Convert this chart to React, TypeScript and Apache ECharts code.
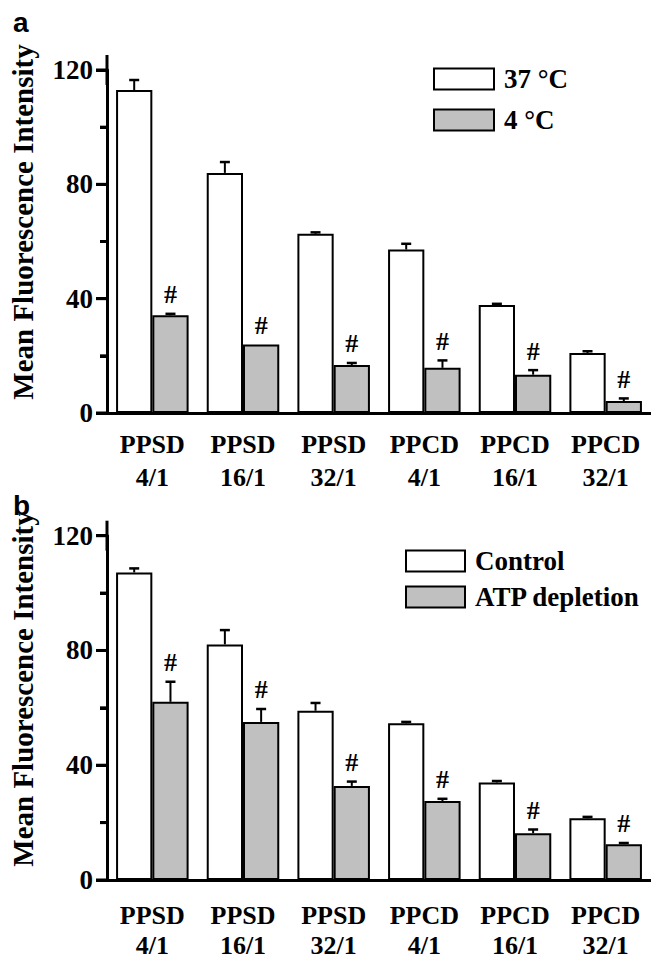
import React, { useEffect, useRef } from "react";
import * as echarts from "echarts";

const categories = ["PPSD\n4/1", "PPSD\n16/1", "PPSD\n32/1", "PPCD\n4/1", "PPCD\n16/1", "PPCD\n32/1"];
const yMax = 120;
const yInterval = 40;
const yMajorTickValues = [0, 40, 80, 120];
const yMinorTickValues = [20, 60, 100];

// Panel a
const seriesA1Name = "37 °C";
const seriesA2Name = "4 °C";
const a37 = [113, 84, 62.7, 57.2, 37.8, 21];
const a37Err = [3.5, 3.8, 0.5, 2.0, 0.4, 0.6];
const a4 = [34.2, 24, 16.8, 15.8, 13.4, 4.2];
const a4Err = [0.5, 0, 0.7, 2.6, 1.6, 0.9];

// Panel b
const seriesB1Name = "Control";
const seriesB2Name = "ATP depletion";
const ctrl = [107.2, 82.1, 59, 54.6, 34, 21.5];
const ctrlErr = [1.4, 5, 2.7, 0.5, 0.5, 0.5];
const atp = [62.1, 55.1, 32.8, 27.5, 16.3, 12.5];
const atpErr = [7, 4.5, 1.5, 0.8, 1.3, 0.4];

const FONT = "'Times New Roman', 'Liberation Serif', serif";
const GRAY = "#c0c0c0";

function errSeries(vals: number[], errs: number[], side: number, hash: boolean, axisIdx: number, yIdx: number) {
  return {
    type: "custom",
    xAxisIndex: axisIdx,
    yAxisIndex: yIdx,
    z: 5,
    silent: true,
    clip: false,
    encode: { x: 0, y: 1 },
    data: vals.map((v, i) => [i, v, errs[i]]),
    renderItem: (params: any, api: any) => {
      const i = api.value(0);
      const v = api.value(1);
      const e = api.value(2);
      const base = api.coord([i, v]);
      const top = api.coord([i, v + e]);
      const bw = api.size([1, 0])[0];
      const x = base[0] + side * bw * 0.2;
      const children: any[] = [];
      if (e > 0) {
        children.push({
          type: "line",
          shape: { x1: x, y1: base[1], x2: x, y2: top[1] },
          style: { stroke: "#000", lineWidth: 2 },
        });
        children.push({
          type: "line",
          shape: { x1: x - 5, y1: top[1], x2: x + 5, y2: top[1] },
          style: { stroke: "#000", lineWidth: 2.5 },
        });
      }
      if (hash) {
        children.push({
          type: "text",
          x: x,
          y: top[1] - 19,
          style: {
            text: "#",
            fontSize: 26,
            fontWeight: "bold",
            fontFamily: FONT,
            fill: "#000",
            align: "center",
            verticalAlign: "middle",
          },
        });
      }
      return { type: "group", children };
    },
  };
}

// Y-axis tick marks placed through the axis scale (major and minor)
function tickSeries(axisIdx: number, yIdx: number) {
  const data = [
    ...yMajorTickValues.map((v) => [0, v, 11]),
    ...yMinorTickValues.map((v) => [0, v, 7]),
  ];
  return {
    type: "custom",
    xAxisIndex: axisIdx,
    yAxisIndex: yIdx,
    z: 6,
    silent: true,
    clip: false,
    encode: { x: 0, y: 1 },
    data,
    renderItem: (params: any, api: any) => {
      const v = api.value(1);
      const len = api.value(2);
      const p = api.coord([0, v]);
      const x0 = params.coordSys.x;
      return {
        type: "line",
        shape: { x1: x0 - len, y1: p[1], x2: x0, y2: p[1] },
        style: { stroke: "#000", lineWidth: 3 },
      };
    },
  };
}

function barSeries(name: string, vals: number[], color: string, axisIdx: number, yIdx: number) {
  return {
    name,
    type: "bar",
    xAxisIndex: axisIdx,
    yAxisIndex: yIdx,
    data: vals,
    barWidth: "40%",
    barGap: "0%",
    itemStyle: { color, borderColor: "#000", borderWidth: 2 },
    z: 3,
  };
}

function xAxisDef(gridIndex: number, margin: number, lineHeight: number) {
  return {
    type: "category",
    gridIndex,
    data: categories,
    axisLine: { show: true, lineStyle: { color: "#000", width: 3 } },
    axisTick: { show: false },
    splitLine: { show: false },
    axisLabel: {
      interval: 0,
      margin,
      color: "#000",
      fontSize: 26,
      fontWeight: "bold",
      fontFamily: FONT,
      lineHeight,
    },
  };
}

function yAxisMain(gridIndex: number) {
  return {
    type: "value",
    gridIndex,
    min: 0,
    max: yMax,
    interval: yInterval,
    position: "left",
    axisLine: {
      show: true,
      symbol: ["none", "rect"],
      symbolSize: [3, 30],
      lineStyle: { color: "#000", width: 3 },
    },
    axisTick: { show: true, length: 11, lineStyle: { color: "#000", width: 3 } },
    minorTick: { show: true, splitNumber: 2, length: 7, lineStyle: { color: "#000", width: 3 } },
    splitLine: { show: false },
    minorSplitLine: { show: false },
    axisLabel: {
      margin: 14,
      color: "#000",
      fontSize: 27,
      fontWeight: "bold",
      fontFamily: FONT,
    },
  };
}

function legendDef(names: string[], left: number, top: number, w: number, gap: number) {
  return {
    orient: "vertical",
    left,
    top,
    padding: 0,
    itemWidth: w,
    itemHeight: 21,
    itemGap: gap,
    icon: "rect",
    data: names,
    textStyle: {
      color: "#000",
      fontSize: 27,
      fontWeight: "bold",
      fontFamily: FONT,
      padding: [0, 0, 0, 5],
    },
  };
}

const gridA = { left: 107, right: 0, top: 70, height: 343, containLabel: false, outerBoundsMode: "none" };
const gridB = { left: 107, right: 0, top: 535.7, height: 344.3, containLabel: false, outerBoundsMode: "none" };

export default function App() {
  const ref = useRef<HTMLDivElement>(null);
  useEffect(() => {
    if (!ref.current) return;
    const chart = echarts.init(ref.current, null, { renderer: "svg" });
    const option: any = {
      animation: false,
      backgroundColor: "#fff",
      grid: [gridA, gridB],
      xAxis: [xAxisDef(0, 15, 33), xAxisDef(1, 20, 30)],
      yAxis: [yAxisMain(0), yAxisMain(1)],
      legend: [
        legendDef([seriesA1Name, seriesA2Name], 433, 65.5, 60, 14),
        legendDef([seriesB1Name, seriesB2Name], 405, 547.5, 59, 9),
      ],
      graphic: [
        {
          type: "text",
          x: 13,
          y: 22,
          style: { text: "a", fontSize: 28, fontWeight: "bold", fontFamily: "'Liberation Sans', Arial, sans-serif", fill: "#000", align: "left", verticalAlign: "middle" },
        },
        {
          type: "text",
          x: 13,
          y: 505,
          style: { text: "b", fontSize: 28, fontWeight: "bold", fontFamily: "'Liberation Sans', Arial, sans-serif", fill: "#000", align: "left", verticalAlign: "middle" },
        },
        {
          type: "text",
          x: 23,
          y: 222,
          rotation: Math.PI / 2,
          style: { text: "Mean Fluorescence Intensity", fontSize: 29, fontWeight: "bold", fontFamily: FONT, fill: "#000", align: "center", verticalAlign: "middle" },
        },
        {
          type: "text",
          x: 23,
          y: 689,
          rotation: Math.PI / 2,
          style: { text: "Mean Fluorescence Intensity", fontSize: 29, fontWeight: "bold", fontFamily: FONT, fill: "#000", align: "center", verticalAlign: "middle" },
        },
      ],
      series: [
        barSeries(seriesA1Name, a37, "#ffffff", 0, 0),
        barSeries(seriesA2Name, a4, GRAY, 0, 0),
        errSeries(a37, a37Err, -1, false, 0, 0),
        errSeries(a4, a4Err, 1, true, 0, 0),
        tickSeries(0, 0),
        barSeries(seriesB1Name, ctrl, "#ffffff", 1, 1),
        barSeries(seriesB2Name, atp, GRAY, 1, 1),
        errSeries(ctrl, ctrlErr, -1, false, 1, 1),
        errSeries(atp, atpErr, 1, true, 1, 1),
        tickSeries(1, 1),
      ],
    };
    chart.setOption(option);
    return () => chart.dispose();
  }, []);
  return (
    <div
      ref={ref}
      style={{ position: "fixed", left: 0, top: 0, width: 651, height: 960, background: "#fff" }}
    />
  );
}
